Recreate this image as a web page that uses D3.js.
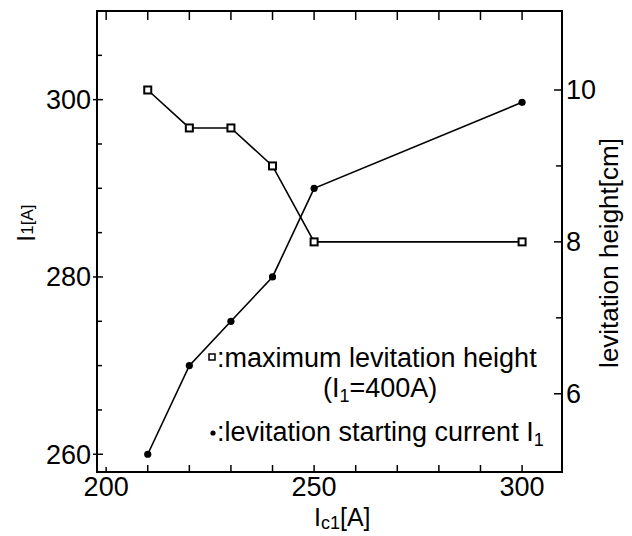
<!DOCTYPE html>
<html>
<head>
<meta charset="utf-8">
<script src="https://cdn.jsdelivr.net/npm/d3@7"></script>
<style>
  body { margin: 0; background: #fff; }
  text { font-family: "Liberation Sans", Arial, Helvetica, sans-serif; fill: #000; }
</style>
</head>
<body>
<div id="chartContainer"></div>
<script>
// coil current Ic1 [A]
const ic1 = [210, 220, 230, 240, 250, 300];
// levitation starting current I1 [A] (left axis)
const startCurrent = [260, 270, 275, 280, 290, 299.7];
// maximum levitation height [cm] at I1=400A (right axis)
const maxHeight = [10, 9.5, 9.5, 9, 8, 8];

const xTicks = [200, 210, 220, 230, 240, 250, 260, 270, 280, 290, 300];
const xLabels = [200, 250, 300];
const yLeftTicks = [260, 265, 270, 275, 280, 285, 290, 295, 300, 305];
const yLeftLabels = [260, 280, 300];
const yRightTicks = [6, 7, 8, 9, 10];
const yRightLabels = [6, 8, 10];

const width = 632;
const height = 536;
const marginTop = 11;
const marginRight = 70;
const marginBottom = 64;
const marginLeft = 97;

const x = d3.scaleLinear().domain([197.8, 309.6]).range([marginLeft, width - marginRight]);
const yL = d3.scaleLinear().domain([258, 310]).range([height - marginBottom, marginTop]);
const yR = d3.scaleLinear().domain([4.97, 11.04]).range([height - marginBottom, marginTop]);

const svg = d3.create("svg")
    .attr("width", width)
    .attr("height", height)
    .attr("viewBox", [0, 0, width, height]);

document.getElementById('chartContainer').appendChild(svg.node());

const x0 = marginLeft, x1 = width - marginRight;
const y0 = height - marginBottom, y1 = marginTop;

// frame
svg.append("rect")
    .attr("x", x0).attr("y", y1)
    .attr("width", x1 - x0).attr("height", y0 - y1)
    .attr("fill", "none").attr("stroke", "#000").attr("stroke-width", 2);

// bottom and top ticks (inward)
svg.append("g").selectAll("line")
    .data(xTicks)
    .join("line")
    .attr("x1", d => x(d)).attr("x2", d => x(d))
    .attr("y1", y0).attr("y2", d => d === 200 ? y0 - 5 : y0 - 7)
    .attr("stroke", "#000").attr("stroke-width", 1.5);

svg.append("g").selectAll("line")
    .data(xTicks)
    .join("line")
    .attr("x1", d => x(d)).attr("x2", d => x(d))
    .attr("y1", y1).attr("y2", y1 + 9)
    .attr("stroke", "#000").attr("stroke-width", 1.5);

svg.append("g").selectAll("text")
    .data(xLabels)
    .join("text")
    .attr("x", d => x(d))
    .attr("y", y0 + 24)
    .attr("text-anchor", "middle")
    .attr("font-size", 27)
    .text(d => d);

// left axis ticks
svg.append("g").selectAll("line")
    .data(yLeftTicks)
    .join("line")
    .attr("x1", d => yLeftLabels.includes(d) ? x0 - 4 : x0)
    .attr("x2", d => yLeftLabels.includes(d) ? x0 + 6 : x0 + 5)
    .attr("y1", d => yL(d)).attr("y2", d => yL(d))
    .attr("stroke", "#000").attr("stroke-width", 1.5);

svg.append("g").selectAll("text")
    .data(yLeftLabels)
    .join("text")
    .attr("x", x0 - 6)
    .attr("y", d => yL(d))
    .attr("dy", "0.35em")
    .attr("text-anchor", "end")
    .attr("font-size", 27)
    .text(d => d);

// right axis ticks
svg.append("g").selectAll("line")
    .data(yRightTicks)
    .join("line")
    .attr("x1", d => yRightLabels.includes(d) ? x1 - 8 : x1 - 6)
    .attr("x2", x1)
    .attr("y1", d => yR(d)).attr("y2", d => yR(d))
    .attr("stroke", "#000").attr("stroke-width", 1.5);

svg.append("g").selectAll("text")
    .data(yRightLabels)
    .join("text")
    .attr("x", x1 + 4)
    .attr("y", d => yR(d))
    .attr("dy", "0.35em")
    .attr("font-size", 27)
    .text(d => d);

// axis titles
const xTitle = svg.append("text")
    .attr("x", 314).attr("y", 526)
    .attr("font-size", 25);
xTitle.append("tspan").text("I");
xTitle.append("tspan").attr("font-size", 18).attr("dy", 3).text("c1");
xTitle.append("tspan").attr("dy", -3).text("[A]");

const yTitle = svg.append("text")
    .attr("transform", "translate(35,242) rotate(-90)")
    .attr("font-size", 26);
yTitle.append("tspan").text("I");
yTitle.append("tspan").attr("font-size", 17).attr("dy", -2).text("1[A]");

svg.append("text")
    .attr("transform", "translate(618,253) rotate(-90)")
    .attr("text-anchor", "middle")
    .attr("font-size", 26)
    .text("levitation height[cm]");

// series
const currentData = ic1.map((d, i) => ({ x: d, y: startCurrent[i] }));
const heightData = ic1.map((d, i) => ({ x: d, y: maxHeight[i] }));

const lineL = d3.line().x(d => x(d.x)).y(d => yL(d.y));
const lineR = d3.line().x(d => x(d.x)).y(d => yR(d.y));

svg.append("path")
    .attr("fill", "none").attr("stroke", "#000").attr("stroke-width", 1.6)
    .attr("d", lineL(currentData));

svg.append("path")
    .attr("fill", "none").attr("stroke", "#000").attr("stroke-width", 1.6)
    .attr("d", lineR(heightData));

svg.append("g").selectAll("circle")
    .data(currentData)
    .join("circle")
    .attr("cx", d => x(d.x)).attr("cy", d => yL(d.y))
    .attr("r", 3.6)
    .attr("fill", "#000");

svg.append("g").selectAll("rect")
    .data(heightData)
    .join("rect")
    .attr("x", d => x(d.x) - 3.5).attr("y", d => yR(d.y) - 3.5)
    .attr("width", 7).attr("height", 7)
    .attr("fill", "#fff").attr("stroke", "#000").attr("stroke-width", 2);

// legend
svg.append("rect")
    .attr("x", 209).attr("y", 354)
    .attr("width", 6).attr("height", 6)
    .attr("fill", "#fff").attr("stroke", "#000").attr("stroke-width", 1.5);
svg.append("text")
    .attr("x", 217).attr("y", 367)
    .attr("font-size", 27)
    .text(":maximum levitation height");

const leg2 = svg.append("text")
    .attr("x", 323).attr("y", 397)
    .attr("font-size", 27);
leg2.append("tspan").text("(I");
leg2.append("tspan").attr("font-size", 18).attr("dy", 5).text("1");
leg2.append("tspan").attr("dy", -5).text("=400A)");

svg.append("circle")
    .attr("cx", 213).attr("cy", 433)
    .attr("r", 2.6)
    .attr("fill", "#000");
const leg3 = svg.append("text")
    .attr("x", 217).attr("y", 441)
    .attr("font-size", 27);
leg3.append("tspan").text(":levitation starting current I");
leg3.append("tspan").attr("font-size", 18).attr("dy", 5).text("1");
</script>
</body>
</html>
